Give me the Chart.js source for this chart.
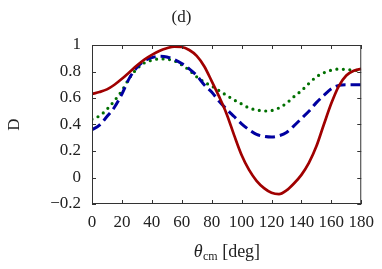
<!DOCTYPE html>
<html>
<head>
  <meta charset="UTF-8">
  <title>D vs theta_cm (d)</title>
  <script src="https://cdn.jsdelivr.net/npm/chart.js"></script>
  <style>
    body { margin: 0; background: #fff; }
    #wrap { width: 382px; height: 269px; }
  </style>
</head>
<body>
<div id="wrap"><canvas id="chart"></canvas></div>
<script>
// angle grid, degrees
const angles = [0,5,10,15,20,25,30,35,40,45,50,55,60,65,70,75,80,85,90,
  95,100,105,110,115,120,125,130,135,140,145,150,155,160,165,170,175,180];

// solid dark red curve
const redD = [0.63,0.645,0.665,0.70,0.745,0.795,0.845,0.89,0.925,0.955,0.975,0.988,0.985,0.962,0.918,0.84,0.728,0.61,0.48,
  0.32,0.17,0.057,-0.025,-0.08,-0.115,-0.125,-0.097,-0.045,0.02,0.11,0.235,0.40,0.56,0.69,0.77,0.805,0.82];

// dashed blue curve
const blueD = [0.36,0.395,0.46,0.53,0.63,0.75,0.83,0.88,0.905,0.915,0.91,0.89,0.86,0.82,0.77,0.70,0.645,0.575,0.515,
  0.46,0.405,0.36,0.325,0.31,0.305,0.315,0.34,0.39,0.445,0.50,0.565,0.62,0.67,0.695,0.70,0.70,0.70];

// dotted green curve
const greenD = [0.44,0.465,0.515,0.58,0.655,0.75,0.82,0.865,0.885,0.895,0.893,0.88,0.85,0.81,0.76,0.72,0.69,0.655,0.62,
  0.585,0.555,0.525,0.51,0.502,0.505,0.525,0.56,0.61,0.655,0.71,0.76,0.79,0.81,0.818,0.815,0.81,0.806];

const xTicks = [0,20,40,60,80,100,120,140,160,180];
const yTicks = [-0.2,0,0.2,0.4,0.6,0.8,1];

const FONT = "'Liberation Serif', 'DejaVu Serif', serif";

function pts(arr) {
  return angles.map((a, i) => ({ x: a, y: arr[i] }));
}

function fmtY(v) {
  if (Math.abs(v) < 1e-9) return '0';
  if (Math.abs(v - 1) < 1e-9) return '1';
  const s = Math.abs(v).toFixed(1);
  return v < 0 ? '\u2212' + s : s;
}

// frame, inner tick marks and the x axis title
const framePlugin = {
  id: 'frame',
  afterDraw(chart) {
    const ctx = chart.ctx;
    const a = chart.chartArea;
    const xs = chart.scales.x, ys = chart.scales.y;
    ctx.save();
    ctx.strokeStyle = '#333';
    ctx.lineWidth = 1;
    ctx.strokeRect(a.left + 0.5, a.top + 0.5, a.right - a.left - 1, a.bottom - a.top - 1);
    ctx.beginPath();
    xTicks.forEach(t => {
      const px = Math.round(xs.getPixelForValue(t)) + 0.5;
      ctx.moveTo(px, a.bottom); ctx.lineTo(px, a.bottom - 4);
      ctx.moveTo(px, a.top); ctx.lineTo(px, a.top + 4);
    });
    yTicks.forEach(t => {
      const py = Math.round(ys.getPixelForValue(t)) + 0.5;
      ctx.moveTo(a.left, py); ctx.lineTo(a.left + 4, py);
      ctx.moveTo(a.right, py); ctx.lineTo(a.right - 4, py);
    });
    ctx.stroke();

    // x title: theta_cm [deg]
    ctx.fillStyle = '#222';
    ctx.textBaseline = 'alphabetic';
    ctx.textAlign = 'left';
    const big = '18px ' + FONT, ital = 'italic 18px ' + FONT, small = '12px ' + FONT;
    ctx.font = ital; const w1 = ctx.measureText('\u03b8').width;
    ctx.font = small; const w2 = ctx.measureText('cm').width;
    ctx.font = big; const w3 = ctx.measureText(' [deg]').width;
    let x = (a.left + a.right) / 2 - (w1 + w2 + w3) / 2;
    const base = 257;
    ctx.font = ital; ctx.fillText('\u03b8', x, base); x += w1 + 0.5;
    ctx.font = small; ctx.fillText('cm', x, base + 3); x += w2;
    ctx.font = big; ctx.fillText(' [deg]', x, base);
    ctx.restore();
  }
};

new Chart(document.getElementById('chart'), {
  type: 'line',
  data: {
    datasets: [
      {
        data: pts(redD),
        borderColor: '#a00000',
        borderWidth: 2.7,
        pointRadius: 0,
        cubicInterpolationMode: 'monotone'
      },
      {
        data: pts(blueD),
        borderColor: '#0000a0',
        borderWidth: 3,
        borderDash: [10, 5],
        pointRadius: 0,
        cubicInterpolationMode: 'monotone'
      },
      {
        data: pts(greenD),
        borderColor: '#007000',
        borderWidth: 3.2,
        borderDash: [0, 6.5],
        borderCapStyle: 'round',
        pointRadius: 0,
        cubicInterpolationMode: 'monotone'
      }
    ]
  },
  options: {
    responsive: true,
    maintainAspectRatio: false,
    animation: false,
    layout: { padding: { left: 0, right: 19, top: 0, bottom: 0 } },
    plugins: {
      legend: { display: false },
      tooltip: { enabled: false },
      title: {
        display: true,
        text: '(d)',
        color: '#222',
        font: { family: FONT, size: 17, weight: 'normal', lineHeight: 1.2 },
        padding: { top: 7, bottom: 17.6 }
      }
    },
    scales: {
      x: {
        type: 'linear',
        min: 0,
        max: 180,
        grid: { display: false, drawTicks: false },
        border: { display: false },
        afterBuildTicks: s => { s.ticks = xTicks.map(v => ({ value: v })); },
        afterFit: s => { s.height = 65; },
        ticks: {
          color: '#222',
          padding: 8,
          maxRotation: 0,
          autoSkip: false,
          font: { family: FONT, size: 17 }
        }
      },
      y: {
        min: -0.2,
        max: 1,
        grid: { display: false, drawTicks: false },
        border: { display: false },
        afterBuildTicks: s => { s.ticks = yTicks.map(v => ({ value: v })); },
        afterFit: s => { s.width = 92; },
        ticks: {
          color: '#222',
          padding: 11,
          callback: v => fmtY(v),
          font: { family: FONT, size: 17 }
        },
        title: {
          display: true,
          text: 'D',
          color: '#222',
          padding: { top: 4, bottom: 0 },
          font: { family: FONT, size: 17 }
        }
      }
    }
  },
  plugins: [framePlugin]
});
</script>
</body>
</html>
